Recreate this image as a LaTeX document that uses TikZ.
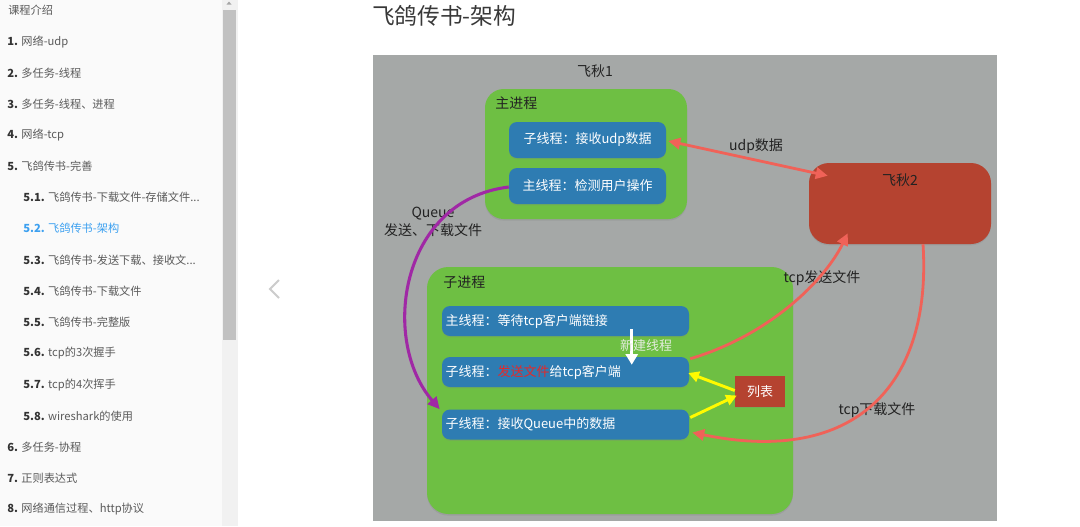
\documentclass[tikz,border=0pt]{standalone}
\usepackage{fontspec}
\setmainfont{Noto Sans CJK SC}
\usetikzlibrary{arrows.meta,calc,shadows}
\definecolor{sidebg}{RGB}{250,250,250}
\definecolor{track}{RGB}{241,241,241}
\definecolor{thumb}{RGB}{193,193,193}
\definecolor{sidetext}{RGB}{90,90,90}
\definecolor{sidenum}{RGB}{51,51,51}
\definecolor{sideblue}{RGB}{60,160,240}
\definecolor{panelgray}{RGB}{165,168,167}
\definecolor{procgreen}{RGB}{110,191,67}
\definecolor{thrblue}{RGB}{46,124,178}
\definecolor{fqred}{RGB}{181,67,48}
\definecolor{salmon}{RGB}{240,98,88}
\definecolor{purp}{RGB}{160,40,165}
\definecolor{yell}{RGB}{255,250,0}
\definecolor{newthr}{RGB}{228,236,222}
\definecolor{redtxt}{RGB}{230,40,40}
\definecolor{darktxt}{RGB}{34,34,34}
\begin{document}
\begin{tikzpicture}[x=0.75pt,y=-0.75pt,
  side/.style={anchor=west, inner sep=0pt, font=\fontsize{8.4pt}{10pt}\selectfont, text=sidetext},
  lbl/.style={inner sep=0pt, font=\fontsize{10.5pt}{14pt}\selectfont, text=darktxt},
  procbox/.style={fill=procgreen, rounded corners=14pt, inner sep=0pt,
    drop shadow={shadow xshift=0pt, shadow yshift=-1.2pt, opacity=0.25}},
  cbox/.style={fill=thrblue, rounded corners=6pt, inner sep=0pt, text=white,
    minimum width=117.75pt, minimum height=27pt, font=\fontsize{9.75pt}{12pt}\selectfont,
    drop shadow={shadow xshift=0pt, shadow yshift=-1pt, opacity=0.25}},
  lbox/.style={fill=thrblue, rounded corners=6pt, inner xsep=2.5pt, inner ysep=0pt, text=white,
    minimum width=185.25pt, text width=180pt, align=left, minimum height=22.5pt,
    font=\fontsize{9.75pt}{12pt}\selectfont,
    drop shadow={shadow xshift=0pt, shadow yshift=-1pt, opacity=0.25}},
  redbox/.style={fill=fqred, inner sep=0pt,
    drop shadow={shadow xshift=0pt, shadow yshift=-1pt, opacity=0.25}},
  salarrow/.style={draw=salmon, line width=2.1pt, -{Triangle[length=9pt,width=8.5pt]}},
  yelarrow/.style={draw=yell, line width=2.2pt, -{Triangle[length=8pt,width=8pt]}},
]
\useasboundingbox (0,0) rectangle (1080,526);
\fill[white] (0,0) rectangle (1080,526);
% sidebar
\fill[sidebg] (0,0) rectangle (222,526);
\fill[track] (222,0) rectangle (238,526);
\fill[thumb] (223,10) rectangle (236,340);
\fill[gray!70] (226.5,4.5) -- (231.5,4.5) -- (229,1.5) -- cycle;
\node[side] (s0) at (8,10) {课程介绍};
\node[side] (s1) at (7,42) {\textcolor{sidenum}{\textbf{1.}} 网络-udp};
\node[side] (s2) at (7,73) {\textcolor{sidenum}{\textbf{2.}} 多任务-线程};
\node[side] (s3) at (7,104) {\textcolor{sidenum}{\textbf{3.}} 多任务-线程、进程};
\node[side] (s4) at (7,135) {\textcolor{sidenum}{\textbf{4.}} 网络-tcp};
\node[side] (s5) at (7,166) {\textcolor{sidenum}{\textbf{5.}} 飞鸽传书-完善};
\node[side] (s51) at (23,197) {\textcolor{sidenum}{\textbf{5.1.}} 飞鸽传书-下载文件-存储文件...};
\node[side, text=sideblue] (s52) at (23,228) {\textbf{5.2.} 飞鸽传书-架构};
\node[side] (s53) at (23,260) {\textcolor{sidenum}{\textbf{5.3.}} 飞鸽传书-发送下载、接收文...};
\node[side] (s54) at (23,291) {\textcolor{sidenum}{\textbf{5.4.}} 飞鸽传书-下载文件};
\node[side] (s55) at (23,322) {\textcolor{sidenum}{\textbf{5.5.}} 飞鸽传书-完整版};
\node[side] (s56) at (23,353) {\textcolor{sidenum}{\textbf{5.6.}} tcp的3次握手};
\node[side] (s57) at (23,385) {\textcolor{sidenum}{\textbf{5.7.}} tcp的4次挥手};
\node[side] (s58) at (23,416) {\textcolor{sidenum}{\textbf{5.8.}} wireshark的使用};
\node[side] (s6) at (7,447) {\textcolor{sidenum}{\textbf{6.}} 多任务-协程};
\node[side] (s7) at (7,478) {\textcolor{sidenum}{\textbf{7.}} 正则表达式};
\node[side] (s8) at (7,509) {\textcolor{sidenum}{\textbf{8.}} 网络通信过程、http协议};
% chevron
\draw[gray!40, line width=1.5pt] (279,280) -- (270,289) -- (279,298);
% title
\node[anchor=west, inner sep=0pt, font=\fontsize{17pt}{20pt}\selectfont, text=darktxt!90] (title) at (372,16) {飞鸽传书-架构};
% panel
\fill[panelgray] (373,55) rectangle (997,521);
% processes
\node[procbox, minimum width=151.5pt, minimum height=97.5pt] (mainp) at (586,154) {};
\node[procbox, minimum width=274.5pt, minimum height=185.25pt, rounded corners=16pt] (childp) at (610,390.5) {};
\node[redbox, rounded corners=15pt, minimum width=136.5pt, minimum height=60.75pt] (fq2) at (900,203.5) {};
% threads
\node[cbox] (t1) at (587.5,140) {子线程：接收udp数据};
\node[cbox] (t2) at (587.5,186) {主线程：检测用户操作};
\node[lbox] (bA) at (565.5,321) {主线程：等待tcp客户端链接};
\node[lbox] (bB) at (565.5,372) {子线程：\textcolor{redtxt}{发送文件}给tcp客户端};
\node[lbox] (bC) at (565.5,424.5) {子线程：接收Queue中的数据};
\node[redbox, minimum width=37.5pt, minimum height=23.25pt, text=white, font=\fontsize{9.75pt}{12pt}\selectfont] (lst) at (760,391.5) {列表};
% labels
\node[lbl] (fq1) at (595,71) {飞秋1};
\node[lbl, anchor=west] (mainlbl) at (495,103) {主进程};
\node[lbl, anchor=west] (childlbl) at (443,282) {子进程};
\node[lbl] (fq2lbl) at (900,180) {飞秋2};
\node[lbl] (udplbl) at (756,146) {udp数据};
\node[lbl, align=center] (qlbl) at (433,222) {Queue\\发送、下载文件};
\node[lbl] (tcpsend) at (822,278) {tcp发送文件};
\node[lbl] (tcpdown) at (877,410) {tcp下载文件};
% connectors
\draw[salmon, line width=2.1pt, {Triangle[length=9pt,width=8.5pt]}-{Triangle[length=9pt,width=8.5pt]}]
  ($(t1.east)+(2,1)$) -- ($(fq2.north west)+(19,13)$);
\draw[purp, line width=2.3pt, -{Triangle[length=9pt,width=8.5pt]}]
  ($(t2.west)+(0,1)$) .. controls (400,200) and (380,340) .. ($(bC.north west)+(-2,0)$);
\draw[salarrow] ($(bB.north east)+(1,2)$) .. controls (770,335) and (825,280) .. ($(fq2.south west)+(39,-11)$);
\draw[salarrow] ($(fq2.south)+(23,0)$) .. controls (932,385) and (855,466) .. ($(bC.east)+(3,8)$);
\draw[white, line width=2.2pt, -{Triangle[length=8pt,width=9pt]}] ($(bA.south west)+(190,-7)$) -- ($(bB.north west)+(190,8)$);
\node[inner sep=0pt, text=newthr, font=\fontsize{9.75pt}{12pt}\selectfont] (newlbl) at (646,346) {新建线程};
\draw[yelarrow] ($(lst.west)+(0,-1)$) -- ($(bB.east)+(-1,1)$);
\draw[yelarrow] ($(bC.east)+(1,-7)$) -- ($(lst.west)+(2,4)$);
\end{tikzpicture}
\end{document}
